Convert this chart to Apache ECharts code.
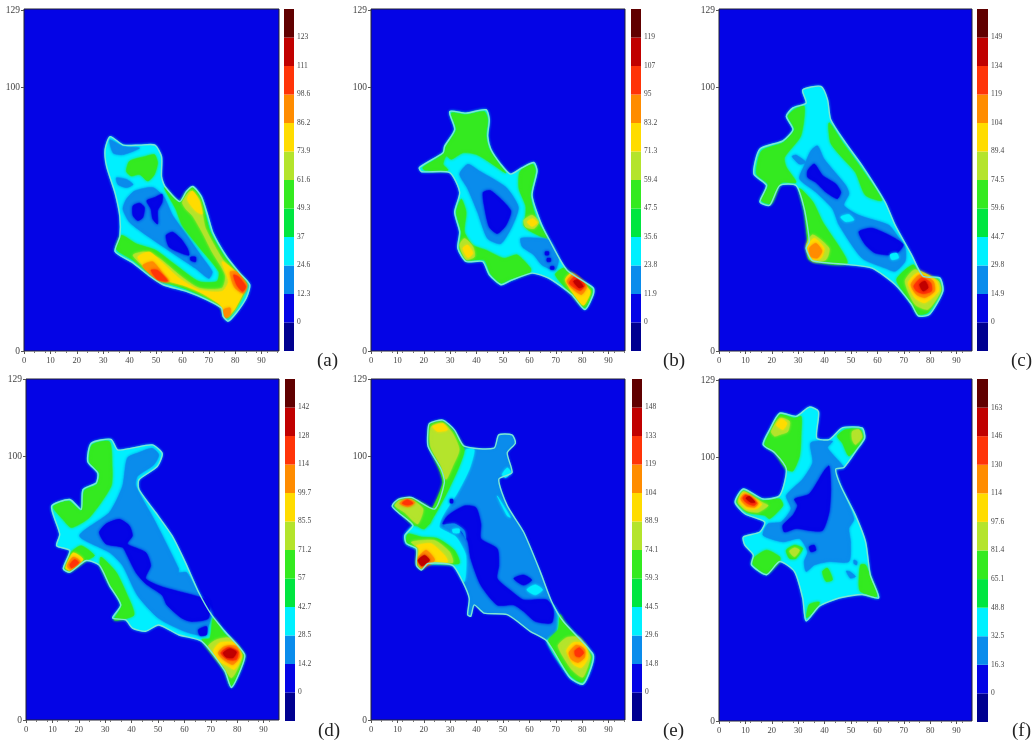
<!DOCTYPE html>
<html><head><meta charset="utf-8">
<style>html,body{margin:0;padding:0;background:#fff}#c{width:1034px;height:745px;filter:blur(0.4px)}</style>
<script src="https://cdn.jsdelivr.net/npm/echarts@6/dist/echarts.min.js"></script>
</head><body><div id="c"></div>
<script>
// colour bands of the scale, bottom to top
const bandColors=['#000090','#0404e6','#0a8cec','#00f0ff','#00e640','#34ea20','#b4e42c','#ffdc00','#ff8c00','#ff3408','#c00000','#600000'];
const xTicks=[0,10,20,30,40,50,60,70,80,90];
const yTicks=[0,100,129];
const scaleA=[0,12.3,24.6,37,49.3,61.6,73.9,86.2,98.6,111,123];
const scaleB=[0,11.9,23.8,35.6,47.5,59.4,71.3,83.2,95,107,119];
const scaleC=[0,14.9,29.8,44.7,59.6,74.5,89.4,104,119,134,149];
const scaleD=[0,14.2,28.5,42.7,57,71.2,85.5,99.7,114,128,142];
const scaleE=[0,14.8,29.6,44.5,59.3,74.1,88.9,104,119,133,148];
const scaleF=[0,16.3,32.5,48.8,65.1,81.4,97.6,114,130,146,163];
// level numbers: 3 sky, 4 cyan, 6 green, 7 yellow-green, 8 yellow, 9 orange, 10 red-orange, 11 red, 12 dark, 2 blue
// contour polygons in data units (x,y pairs)
const aOutline=[32.6,81.2,37.6,78,43.9,78,49.6,78,52.1,73.6,52.1,66,53.4,62.3,59,56.6,61.5,60.4,64,62.3,67.2,58.5,69.7,51,71.6,44.7,76.7,35.8,81.7,29.5,85.5,25.1,84.2,20.1,80.4,14.4,77.3,11.3,75.4,13.2,74.8,16.3,69.1,19.5,61.5,22.6,52.7,25.1,47.7,28.3,41.4,33.3,34.5,37.7,36.3,43.4,36.3,51,34.5,59.8,31.3,69.9,30.7,76.2];
const aLayers=[
[3,[32.5,80,37.5,77.5,43.8,76.9,37.5,74.4,33.8,75]],
[6,[38.8,68.1,40,71.9,46.3,73.8,49.4,74.4,50.6,71.3,49.4,66.9,46.9,64.4,43.8,66.9,40.6,66.3]],
[3,[35,65.6,38.8,65,41.3,63.1,38.8,61.9,35.6,63.1]],
[3,[41.9,60.6,48.8,61.9,53.1,58.1,56.3,51.3,61.3,44.4,66.9,36.3,71.3,30,70,27.5,65,31.3,57.5,36.3,47.5,43.1,40,48.8,37.5,53.8,38.8,57.5]],
[2,[41.3,55,43.8,56,45.6,54.4,45,50.6,43.1,49.4,41.3,51.3]],
[2,[46.5,56.9,49.4,58.1,52.3,59.4,52.3,56.3,50.6,53.1,50.6,48.1,48.8,50,48.1,53.8]],
[2,[53.8,43.8,56.3,45,59.4,42.5,61.9,38.8,62.5,36.3,60,36.9,55,39.4]],
[2,[63.1,35.6,65,35.6,65,33.8,63.1,34.4]],
[6,[53.1,61.9,58.8,56.3,61.3,60,63.8,61.9,66.9,58.1,68.8,51.3,70.6,45,75.6,36.3,80.6,30,84.4,25.6,83.1,21.3,80,15.6,76.9,12.5,74.4,16.9,68.1,20.6,60.6,23.8,52.5,26.3,47.5,29.4,41.3,34.4,35,38.5,36.9,43.8,42.5,40.6,50,38.1,57.5,32.5,66.3,26.3,73.1,26.3,73.8,30,66.3,39.4,60,47.5,57.5,53.8]],
[7,[60,56.3,63.1,60.6,66.3,57.5,67.5,52.5,68.8,46.3,75,35,78.8,30.6,83.8,25,80,16.3,76.9,13.1,74.4,17.5,67.5,21.9,61.3,25,52.5,27.5,46.3,31.3,41.3,36.3,45.6,37.5,51.3,35,58.8,28.8,66.3,23.8,75,23.8,76.3,28.8,71.3,37.5,67.5,45,63.8,51.3,61.3,53.8]],
[8,[61.9,57.5,63.8,60.6,66.3,56.9,67.5,51.9,65,53.1]],
[8,[43.1,35.6,47.5,37.5,51.9,33.8,58.8,27.5,66.3,23.1,75,22.5,77.5,26.3,75,33.8,78.8,31.3,83.8,25,80,16.3,76.9,13.1,74.4,17.5,67.5,21.9,60,25,51.3,27.5,46.3,31.3]],
[9,[45,32.5,48.8,33.8,52.5,29.4,55,26.3,50.6,26.9,46.9,30]],
[9,[78.1,30,80.6,30,84.4,25,83.1,21.9,80,23.8,78.8,26.3]],
[9,[75.6,15.6,78.1,16.3,78.1,13.8,76.3,12.5]],
[10,[48.1,30.6,50.6,30.6,54.4,26.5,50.6,27.1]],
[10,[79.4,28.8,81.3,28.1,84,24.4,82.8,22.5,80.6,25]]
];
const bOutline=[29.8,90.7,36,90.1,43.6,91.4,44.8,87.6,44.2,81.4,45.4,76.4,49.2,70.7,52.9,67,57.3,69.5,61.7,71.4,62.9,68.2,61,58.9,64.2,48.9,67.3,42.6,74.2,30.7,84.2,23.9,84.2,21.4,81,15.7,76,21.4,67.3,27.6,61,29.5,52.3,26.4,49.2,25.1,44.8,28.9,42.3,33.9,36,33.9,32.9,38.9,33.6,45.1,31.7,52.6,33.6,60.1,29.8,67.6,19.2,67.9,18.3,69.5,27.3,75.1,27.9,77.6,31.7,83.9];
const bLayers=[
[6,[30.4,90.1,36,89.5,42.9,90.7,44.2,87.6,43.6,81.4,44.8,76.4,48.6,70.7,51.1,67.4,44.2,72,39.8,74.5,34.8,75.1,30.4,72.6,28.5,73.9,27.3,70.7,29.2,68.5,20.4,68.5,19.6,69.5,27.3,74.5,28.5,77.6,32.3,83.9]],
[6,[56.1,67,57.3,68.9,61.3,70.7,62.3,68.2,60.4,58.9,62.9,49.5,66.7,42.6,59.8,45.7,57.9,47.6,58.6,51.4,58.6,55.1,56.1,61.4]],
[7,[57.9,49.5,61,51.4,63.5,48.9,61.7,46.4,58.6,47]],
[8,[59.2,48.9,61.3,50.1,62.9,48.6,61,47.2]],
[6,[32.3,52.6,34.2,57.6,36,52.6,35.4,45.1,38.6,40.1,43.6,38.2,50.4,35.1,55.4,36.4,60.4,31.4,60.4,29.9,52.3,27,49.2,25.7,45.4,29.1,42.9,34.5,36,34.5,33.6,38.9,34.2,45.1]],
[7,[33.6,40.1,35.4,42.6,38.6,39.5,39.2,35.7,36,34.7]],
[8,[34.8,38.9,36.7,40.1,38.6,37,36.7,35.4]],
[3,[33.6,67,36.7,70.7,41,68.2,51.1,62,55.8,54.5,53.6,47.6,49.2,40.7,44.2,42.6,40.4,52.6,36.7,61.4]],
[2,[42.5,60.1,45.4,60.7,52.9,53.2,51.1,47.6,47.9,44.5,44.8,47,42.9,55.1]],
[3,[56.7,42.6,59.8,42.9,67.3,42,71,35.1,69.8,30.7,64.8,32.6,61.7,36.4,57.3,39.5]],
[2,[66,37.6,67.3,37.6,67.3,36.4,66,36.4]],
[2,[66.7,35.1,68,35.1,68,33.9,66.7,33.9]],
[2,[68,32,69.3,32,69.3,31,68,31]],
[6,[69.8,28.9,72.9,31.4,74.8,30.1,83.6,23.6,83.6,21.4,81,16.4,76,21.4]],
[8,[73.6,27,76,29.5,82.9,23,82.9,21.4,80.4,17.3,76,22.6]],
[9,[74.2,26.4,76.7,28.9,81.7,24.5,79.8,21.4,76.7,23.2]],
[10,[75.1,25.7,77.3,28.2,81,25.1,79.2,22.9]],
[11,[76.7,26.4,78.3,27,80.4,24.5,78.8,23.9]]
];
const cOutline=[31.7,98.9,38.6,100.2,41.1,95.2,42.3,87.7,47.9,78.9,54.2,70.2,62.9,56.4,66.7,47.7,72.9,36.5,77.3,28.3,83.6,27.7,84.8,22.7,79.8,13.9,75.5,13.3,72.9,17.7,66.7,25.2,58,31.4,49.2,32.7,35.5,34.2,33,38.9,34.2,41.4,32.3,53.9,29.2,62.7,23,62.7,19.2,55.2,15.5,56.5,18,62.7,13.2,67.1,15.5,76.5,24.2,79.6,28,83.9,25.5,88.9,28,92.1,33,93.9];
const cLayers=[
[6,[26.1,88.9,28.6,91.5,32.3,92.7,31,81.5,24.8,73.3,25.5,69.6,29.2,63.9,23.6,63.7,19.8,55.8,16,57,18.6,63,14.2,67.1,16.1,75.8,24.2,78.9,28.6,83.9]],
[6,[41.7,86.5,47.3,78.3,53.6,69.6,61.7,57.1,55.5,59,51.7,67.7,46.1,73.9,42.3,78.9]],
[6,[30.5,61.5,32.3,53.3,33.6,41.4,34.2,34.6,48.6,33.3,39.2,49,35.5,56.5]],
[7,[33,39.6,35.5,44,41.7,38.9,40.5,34.6,35.5,34]],
[8,[33.6,39.6,36.1,42.7,39.8,38.9,38.6,35.2,35.5,34.6]],
[9,[34.2,38.9,36.7,40.8,39,37.9,37.3,35.2,34.8,35.8]],
[3,[34.8,75.8,37.3,77.7,39.8,72.7,48,62.7,49.2,59.6,47.3,55.2,53,51.4,64.2,47.7,67.3,44,70.5,39,70.5,34,66.7,30.2,63,31.4,54.2,35.2,45.5,47.7,43,53.9,36.7,60.2,30.5,65.2,32.3,70.2]],
[3,[27.7,73.7,29.2,74.2,33,71.4,30.5,70.8]],
[2,[33.6,68.3,36.1,70.8,39.2,66.5,44.2,63.3,46.1,60.2,44.8,57.7,40.5,60.2,36.7,63.9,33.6,65.8]],
[2,[53,45.2,58,46.5,65.5,43.3,69.8,40.2,66.7,36.5,59.2,37.1,55.5,40.2]],
[4,[46.1,50.8,49.2,51.7,51.1,49.6,48,49]],
[4,[64.8,36.5,67.3,37.1,68,35.2,65.5,34.6]],
[6,[67.3,27,73.6,32.7,76.7,27.7,83,27.1,84.2,22.7,79.2,14.6,75.5,13.9,72.9,18.3]],
[7,[70.5,26.4,74.2,30.8,83,26.5,84,22.7,79.2,15.8,74.2,17.7]],
[8,[71.7,25.8,75.5,29.6,82.3,26.5,83.2,22.7,78,18.3,74.2,20.2]],
[9,[72.7,25.2,76,28.9,81.1,26.5,81.7,22.7,78,20.2,74.8,21.4]],
[10,[73.8,24.6,76.7,27.7,80.2,25.8,80.5,22.7,77.3,21.7,74.8,22.7]],
[11,[76,25.2,78,26.5,79.2,24,77.3,22.7]]
];
const dOutline=[24.7,104.8,32.2,106.3,34.7,102.3,39.7,102.9,47.8,104.2,51.6,101,49.7,96,42.8,91,42.8,87.3,49.1,78.6,55.3,69.8,60.3,59.8,65.3,48.6,70.3,39.8,75.3,33.6,82.8,24.8,81.6,19.8,77.8,12.3,75.3,18.6,66.6,29.8,57.8,32.3,50.3,36,45.3,33.6,40.3,34.8,37.8,37.9,32.8,38.6,35.9,43.6,31.6,51,27.8,58.6,22.8,60.4,16.6,56,14.1,57.3,16.6,64.2,11.6,66,12.8,70.4,9.7,81,16.6,83.5,20.9,79.8,21.6,87.3,26.6,89.8,27.2,93.5,23.4,97.9];
const dLayers=[
[3,[38.4,99.2,42.8,101.3,47.8,102.9,50.3,100.4,48.4,96.7,42.2,92.3,41.6,88.6,48.4,76.1,57.8,57.3,57.8,55.8,60.9,55.8,65.3,47.9,70.3,40.4,67.2,32.3,60.3,33.5,50.3,38.5,42.2,47.3,36.6,58.5,31.6,63.5,20.3,69.8,31.6,78.6,36.6,88.6]],
[2,[27.8,71,30.3,74.2,35.3,76,39.1,73.6,40.3,69.8,38.4,66.7,45.3,63.5,47.2,58.5,45.3,53.6,51.6,50.4,65.3,46.7,69.1,44.8,69.1,38.5,62.8,37.3,59,38.6,53.4,43.6,51.6,47.3,45.3,51.7,41.6,56,38.4,62.3,36.6,65.4,30.3,66.7]],
[2,[65.3,34.2,68.4,35.4,68.4,32.3,65.9,32]],
[6,[25,104.2,31.6,105.4,32.6,96,32.2,88.5,24,76.7,17.2,72.9,14,76,10.3,80.8,16.3,82.9,20.9,79.2,22.2,87,26.8,89.2,27.8,93.5,24,97.9]],
[6,[14.7,57.3,17.2,63.6,20.9,66,25.9,62.3,22.8,60.4,16.6,56.3]],
[8,[15,57.6,17.8,63.3,21.6,60.8,16.6,56.7]],
[9,[15.6,58.3,17.8,61.7,20.6,60,16.8,57]],
[10,[16.6,58.8,18.4,60.8,20,59.6,17.2,57.6]],
[6,[28.4,61.7,34.1,56,37.8,48.5,40.9,39.8,33.4,37.9,36.3,43.6,31.8,51,28.1,58.6]],
[6,[66.6,30.4,69.7,31,70.9,38.6,74.7,33.3,82.6,24.8,81.3,19.8,77.8,12.9,75.3,18.8]],
[7,[69.1,27.9,72.2,30.4,77.2,31,81.8,24.8,80.3,19.8,77.8,16,74.7,20.4]],
[8,[71,26,73.4,29.2,79,29.2,81.6,24.2,79,19.2,76.6,20.4,73.4,22.3]],
[9,[72.8,25.4,75.3,27.9,79.7,27.9,81,24.2,78.4,21,74.7,22.9]],
[10,[73.8,25.4,76.6,27.5,80.3,26,79.7,22.9,76.6,22.9]],
[11,[74.7,25.4,77.2,27,79.7,25.8,78.4,23.6,75.9,23.8]]
];
const eOutline=[22.2,112.4,27.2,113.6,31.6,109.9,35.3,103.7,46.6,103,48.4,108,53.4,108,54.7,104.9,51.6,101.2,53.4,93.7,48.4,91.2,51.6,81.2,57.8,71.2,64.1,56.2,68.4,44.9,72.8,37.4,84.1,24.9,83.4,19.9,80.3,13.6,75.3,16.1,66.6,29.9,60.3,33.6,51.6,39.9,42.8,40.5,39.1,43.6,37.8,39.3,36.6,39.9,37.2,46.1,34.7,52.4,30.9,58.6,21.6,59.3,19.1,56.8,17.2,58.6,17.2,64.9,13.4,66.8,12.8,69.9,15.9,73.7,10.3,78.6,8,81.1,10.3,83.6,15.3,84.3,24.1,79.9,27.8,89.9,26.6,94.9,21.6,103.7,21.6,109.9];
const eLayers=[
[4,[35.9,102.4,39.1,102.4,37.2,94.9,32.8,86.2,27.2,77.4,25.9,73,32.2,69.3,35.9,62.4,35.3,52.4,30.9,58.6,21.6,59.3,17.2,64.9,13.4,66.8,12.8,69.9,15.9,73.7,21.6,76.2,26.6,83.6,30.3,92.4]],
[6,[22.2,111.8,27.2,113,31.3,109.3,35.3,102.6,33.4,96.1,29.7,88,24.7,78.6,20.3,72.4,17.8,73.7,23.4,80.5,27.2,89.9,25.9,94.9,22.2,103.6]],
[7,[22.8,111.1,27.2,112.4,30.9,108.6,33.4,102.4,30.9,96.1,28.4,91.1,26.6,96.1,22.6,103.6]],
[8,[23.4,111.2,27.2,112.2,29,109.9,25.3,109.3]],
[6,[8.8,81.2,10.6,83.4,15.3,83.9,22.8,79.9,22.2,74.3,16.6,73.7,10.9,78.6]],
[7,[9.1,81.2,10.6,83,15.3,83.4,19.7,79.9,17.8,74.3,15.9,75.5,12.8,78.6]],
[9,[10.9,82,13.4,83.6,16.6,82.4,14.1,80.8]],
[10,[11.8,82.1,13.8,83.4,15.9,82.1,13.8,81.4]],
[6,[13.4,67.4,14,70.5,19.1,69.3,25.3,68.7,31.6,64.3,33.4,59.3,21.6,59.6,19.1,57.2,17.2,59.3,17.4,64.9]],
[7,[15.3,67.4,24.1,68,29.7,63.7,30.9,59.6,21.6,59.9,19.1,57.4,17.6,59.6,17.8,64.9]],
[8,[17.2,66.1,22.8,66.8,27.8,62.4,29,59.9,21.6,60.2,19.1,57.7,17.8,59.9,18.4,64.9]],
[9,[17.8,61.2,20.9,64.3,24.1,60.5,19.1,57.7]],
[11,[17.8,60.5,20.3,62.4,22.2,60.5,19.3,58.3]],
[2,[29.1,77.4,35.3,81.1,39.7,80.5,41.6,74.3,41.6,68.7,47.8,64.9,48.4,58.6,47.8,53.6,53.4,48.6,57.8,45.5,66.6,45.5,69.1,41.8,68.4,36.8,62.2,37.4,57.8,41.2,54.1,43.6,47.8,43.6,41.6,51.1,37.8,61.2,36.6,68,32.8,72.4,29.1,74.3,27.2,74.3]],
[3,[27.8,73.7,31.6,74.3,35.3,71.8,35.9,68.7,34.1,71.8,30.9,71.8]],
[4,[30.9,72.2,33.4,72.4,33.4,70.9,31.2,70.9]],
[2,[54.1,53.6,57.8,54.9,60.9,53,57.8,51.1]],
[4,[59,49.3,62.2,51.2,65,49.3,62.2,47.4]],
[4,[49.7,93,51.6,95.5,53,93.7,50.9,91.8]],
[4,[47.8,84.9,52.8,76.8,51.6,77.4]],
[2,[30,83.6,31,83.6,31,82.2,30,82.2]],
[4,[69.1,43.6,72.8,37.4,84.1,24.9,83.4,19.9,80.3,13.6,75.3,16.1,66.6,29.9,70.3,32.4,70.9,39.3]],
[6,[67.2,29.9,70.9,34.3,71.6,39.9,73.4,36.8,83.4,24.6,82.8,20.2,80.1,14.3,75.6,16.8]],
[7,[70.9,28,74.1,31.2,79,31.2,83,24.3,82.2,20.5,80.1,16.2,75.9,19.3]],
[8,[74.1,26.2,76.6,29.3,80.9,28.7,82.2,23.7,79.7,19.9,76.6,21.2]],
[9,[75,25.5,77.8,28.4,80.9,26.8,80.9,23.7,78.4,21.8,75.9,23]],
[10,[77.2,26.2,79,27.4,80.6,25.5,79,23.9,77.5,24.3]]
];
const fOutline=[23,116.6,29.2,115.4,34.2,118.9,37.7,117.2,37,107.2,41.7,106.6,46.7,111,54.2,111,55.2,107.2,52.3,102.9,47.3,96,44.2,95.4,46.1,89.1,51.7,77.9,55.5,67.9,57.3,55.4,60.5,46.6,54.2,47.9,45.5,46.6,38,43.5,33,37.9,31.7,46.6,28.6,56.6,23,60.4,18,55.4,12.3,59.1,13,62.9,9.8,66.6,9.2,69.7,15.5,71.6,17.3,75.4,9.8,78.5,6.1,82.9,9.2,87.9,16.7,84.1,23,85.4,25.5,95.4,21.1,101.6,16.7,104.7,19.2,110.4];
const fLayers=[
[3,[34.8,105.4,43,106,41.1,103.5,47.3,96,44.2,95.1,46.1,88.5,51.1,76.6,49.2,72.9,49.8,67.9,49.2,60.4,41.7,60.4,36.1,59.1,33,56.6,32.3,60.4,33.6,64.1,30.5,69.1,24.2,67.9,16.7,70.4,18.6,74.7,23.6,75.4,27.3,80.4,25.5,85.4,31.7,91.6,35.5,97.9]],
[2,[28.6,84.1,34.2,86,39.8,94.7,41.7,96.6,42.3,87.9,41.7,79.1,39.2,72.2,34.2,72.2,29.2,72.9,24.8,71.6,24.2,74.1,28,77.9,29.8,81.6]],
[2,[34.2,66,36.1,66.6,36.7,64.7,34.8,64.1]],
[3,[51.1,61,52.3,60.4,52.1,59.1,51.1,59.7]],
[3,[48.2,56.8,49.5,56.6,51.7,54.7,49.8,54.1]],
[6,[17.3,104.7,19.8,110.4,23,116,28.6,114.7,31.1,115.4,31.1,109.1,30.5,100.4,28,94.7,25.5,95.4,21.1,101.6]],
[7,[19.8,109.7,23,114.7,26.7,113.5,26.1,109.7,23,108.5,21.1,107.9]],
[8,[21.7,112.2,23.6,114.4,25.7,112.8,24.2,110.4]],
[6,[44.8,107.9,47.9,110.4,53.6,110.4,54.6,107.2,52.3,103.5,49.2,100.4,46.7,105.4]],
[7,[50.5,109.7,53,110.4,54.2,107.6,51.7,104.7,50.5,106.6]],
[6,[6.7,82.9,9.2,87.2,16.1,83.5,23,84.1,24.2,81.6,19.2,76.6,17.3,77.9,10.5,79.1]],
[7,[7.3,82.9,9.2,86.9,16.1,82.9,18.6,81.6,14.8,79.1,10.5,79.7]],
[8,[7.7,83.5,9.5,86.4,16.1,82.2,14.2,80.4,10.5,80.4]],
[9,[8.2,84.1,9.8,86,14.8,82.6,13.6,81,10.5,81.4]],
[10,[9,84.4,10.2,85.6,14.2,82.6,13.2,81.6,10.5,82.6]],
[11,[10.2,84.4,11.5,85.1,13.6,82.9,12,82.9]],
[6,[13,61.6,18,64.7,23,62.2,23,60.4,18,55.9,13,59.1]],
[6,[25.5,64.7,28.6,66.6,31.7,65.4,29.2,61.6,26.7,61.6]],
[7,[26.7,64.3,28.6,65.6,30.5,64.7,28.6,62.2]],
[6,[41.1,57.9,43,53.5,40.5,52.9,39.2,56.6]],
[6,[33.2,39.1,34.2,44.1,38,45.1,37.3,43.1]],
[6,[53.6,59.1,55.5,59.1,57.3,54.7,59.8,47.2,53.6,49.1,53,51.6]]
];
const panels=[
 {tag:'(a)',outline:aOutline,base:4,layers:aLayers,scale:scaleA,g:[24,9,255,342],bar:[284,10],tagAt:[312,347]},
 {tag:'(b)',outline:bOutline,base:4,layers:bLayers,scale:scaleB,g:[371,9,254,342],bar:[631,10],tagAt:[658,347]},
 {tag:'(c)',outline:cOutline,base:4,layers:cLayers,scale:scaleC,g:[719,9,253,342],bar:[977,11],tagAt:[1006,347]},
 {tag:'(d)',outline:dOutline,base:4,layers:dLayers,scale:scaleD,g:[26,379,253,341],bar:[285,10],tagAt:[313,717]},
 {tag:'(e)',outline:eOutline,base:3,layers:eLayers,scale:scaleE,g:[371,379,254,341],bar:[632,10],tagAt:[658,717]},
 {tag:'(f)',outline:fOutline,base:4,layers:fLayers,scale:scaleF,g:[719,379,253,342],bar:[977,11],tagAt:[1007,717]}
];
const font='"Liberation Serif",serif';
const grid=[],xAxis=[],yAxis=[],series=[],title=[];
panels.forEach((p,i)=>{
  const [l,t,w,h]=p.g;
  grid.push({left:l,top:t,width:w,height:h,show:true,backgroundColor:'#0404e6',borderColor:'#223',borderWidth:1});
  xAxis.push({gridIndex:grid.length-1,type:'value',min:0,max:w/2.64,
    axisLine:{show:false},splitLine:{show:false},
    axisTick:{customValues:xTicks,length:3,lineStyle:{color:'#555'}},
    minorTick:{show:true,splitNumber:5,length:2,lineStyle:{color:'#777'}},
    axisLabel:{customValues:xTicks,fontFamily:font,fontSize:8.5,color:'#444',margin:5}});
  yAxis.push({gridIndex:grid.length-1,type:'value',min:0,max:h/2.64,
    axisLine:{show:false},splitLine:{show:false},
    axisTick:{customValues:yTicks,length:3,lineStyle:{color:'#555'}},
    axisLabel:{customValues:yTicks,fontFamily:font,fontSize:9.5,color:'#444',margin:4}});
  const shapes=[[p.base,p.outline],...p.layers,[0,p.outline]];
  series.push({type:'custom',xAxisIndex:xAxis.length-1,yAxisIndex:yAxis.length-1,silent:true,clip:true,
    data:shapes.map((s,k)=>[k]),
    encode:{x:[],y:[]},
    renderItem:(params,api)=>{
      const [lev,flat]=shapes[params.dataIndex];
      const pts=[];
      for(let k=0;k<flat.length;k+=2) pts.push(api.coord([flat[k],flat[k+1]]));
      if(lev===0) return {type:'polygon',shape:{points:pts,smooth:0.22},style:{fill:'none',stroke:'#7fe6d4',lineWidth:1.4}};
      const col=bandColors[lev-1];
      return {type:'polygon',shape:{points:pts,smooth:0.22},style:{fill:col,stroke:col,lineWidth:0.5,shadowBlur:3,shadowColor:col}};
    }});
  // colour bar
  grid.push({left:p.bar[0],top:t,width:p.bar[1],height:h+(i>2?1:0),show:false});
  xAxis.push({gridIndex:grid.length-1,type:'category',data:['scale'],show:false});
  yAxis.push({gridIndex:grid.length-1,type:'value',min:0,max:12,interval:1,position:'right',
    axisLine:{show:false},axisTick:{show:false},splitLine:{show:false},
    axisLabel:{fontFamily:font,fontSize:7.5,color:'#444',margin:3,showMinLabel:false,showMaxLabel:false,
      formatter:v=>{const s=p.scale[v-1];return s===undefined?'':String(s);}}});
  bandColors.forEach(c=>series.push({type:'bar',stack:'s'+i,xAxisIndex:xAxis.length-1,yAxisIndex:yAxis.length-1,
    barWidth:'100%',silent:true,data:[1],itemStyle:{color:c}}));
  title.push({text:p.tag,left:p.tagAt[0],top:p.tagAt[1],textStyle:{fontFamily:font,fontWeight:'normal',fontSize:19,color:'#222'}});
});
const chart=echarts.init(document.getElementById('c'),null,{renderer:'canvas'});
chart.setOption({animation:false,backgroundColor:'#fff',title,grid,xAxis,yAxis,series});
</script></body></html>
